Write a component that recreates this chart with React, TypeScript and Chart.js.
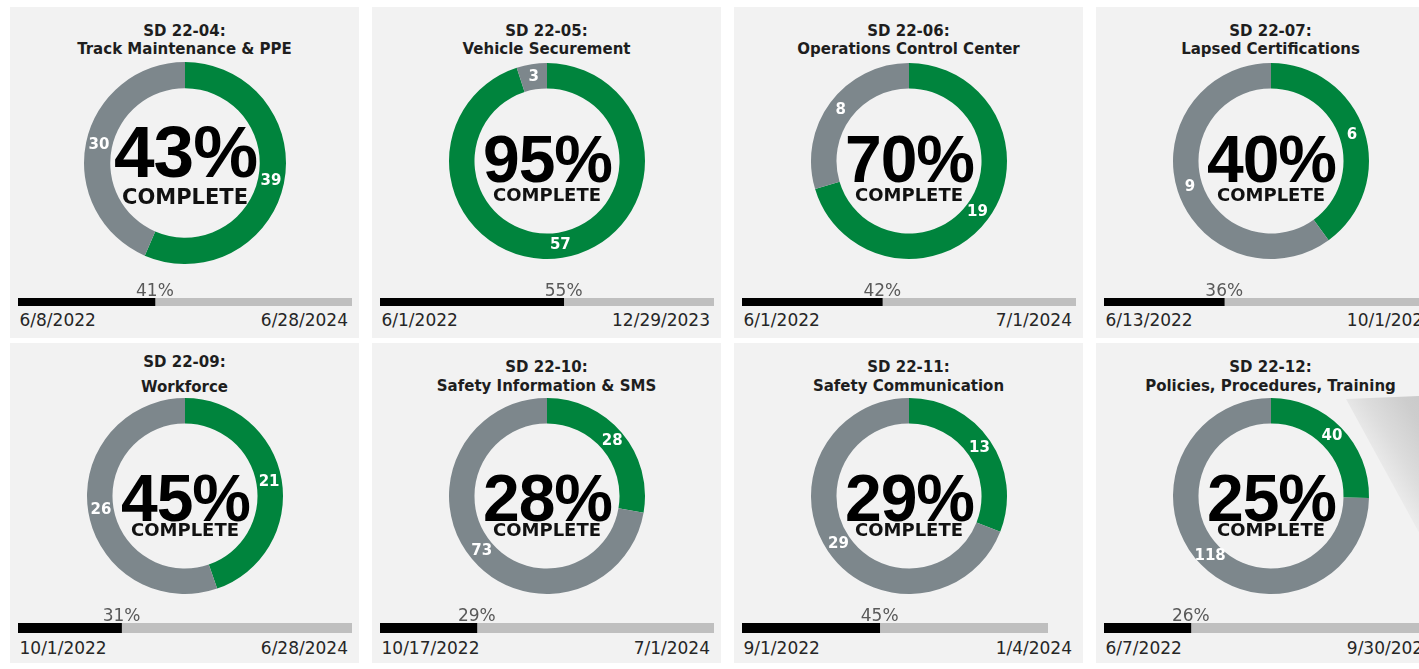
import React, { useEffect, useRef } from "react";
import { Chart, registerables } from "chart.js";

Chart.register(...registerables);

// ---------- data ----------
const codes = ["SD 22-04:", "SD 22-05:", "SD 22-06:", "SD 22-07:", "SD 22-09:", "SD 22-10:", "SD 22-11:", "SD 22-12:"];
const titles = [
  "Track Maintenance & PPE",
  "Vehicle Securement",
  "Operations Control Center",
  "Lapsed Certifications",
  "Workforce",
  "Safety Information & SMS",
  "Safety Communication",
  "Policies, Procedures, Training",
];
const completeLabels = ["43%", "95%", "70%", "40%", "45%", "28%", "29%", "25%"];
const completedItems = [39, 57, 19, 6, 21, 28, 13, 40];
const remainingItems = [30, 3, 8, 9, 26, 73, 29, 118];
const elapsedPct = [41, 55, 42, 36, 31, 29, 45, 26];
const startDates = ["6/8/2022", "6/1/2022", "6/1/2022", "6/13/2022", "10/1/2022", "10/17/2022", "9/1/2022", "6/7/2022"];
const endDates = ["6/28/2024", "12/29/2023", "7/1/2024", "10/1/2024", "6/28/2024", "7/1/2024", "1/4/2024", "9/30/2024"];

// ---------- styles / layout ----------
const GREEN = "#00843D";
const RING_GRAY = "#7D878C";
const PANEL_BG = "#F2F2F2";
const TRACK = "#BFBFBF";
const SANS = '"DejaVu Sans", Verdana, sans-serif';
const ARIAL = '"Liberation Sans", Arial, sans-serif';

const PANEL_X = [10, 372, 734, 1096];
const ROW_Y = [7, 343];
const ROW_H = [331, 320];
const PANEL_W = 349;
const BAR_LEFT = 8;
const BAR_W = [334, 334, 334, 334, 334, 334, 306, 334];

function layoutFor(i: number) {
  const row = i < 4 ? 0 : 1;
  const first = i === 0;
  if (row === 0) {
    return {
      row,
      t1: 30,
      t2: 48,
      cy: first ? 155.5 : 153.5,
      R: first ? 101 : 98,
      bigSize: first ? 73 : 66,
      bigLs: -1,
      bigOff: first ? 14 : 21,
      compSize: first ? 21 : 18,
      compOff: first ? 41 : 39.5,
      barTop: 291,
      barH: 8,
      dateBase: 319,
    };
  }
  return {
    row,
    t1: i === 4 ? 25 : 30,
    t2: i === 4 ? 50 : 49,
    cy: 153,
    R: 98,
    bigSize: 66,
    bigLs: -1,
    bigOff: 25,
    compSize: 18,
    compOff: 40,
    barTop: 280,
    barH: 10,
    dateBase: 311,
  };
}

// top of a line-height:1 DejaVu line so that its baseline lands at `base`
const topFor = (base: number, fs: number) => base - 0.846 * fs;

function Donut({ idx }: { idx: number }) {
  const ref = useRef<HTMLCanvasElement | null>(null);
  const L = layoutFor(idx);
  const pad = 2;
  const size = L.R * 2 + pad * 2;
  useEffect(() => {
    const canvas = ref.current;
    if (!canvas) return;
    const values = [completedItems[idx], remainingItems[idx]];
    const textPlugin = {
      id: "donutText" + idx,
      afterDatasetsDraw(chart: any) {
        const ctx = chart.ctx as CanvasRenderingContext2D;
        const meta = chart.getDatasetMeta(0);
        ctx.save();
        ctx.fillStyle = "#FFFFFF";
        ctx.font = `bold 15px ${SANS}`;
        ctx.textAlign = "center";
        ctx.textBaseline = "middle";
        meta.data.forEach((arc: any, j: number) => {
          const p = arc.tooltipPosition(false);
          ctx.fillText(String(values[j]), p.x, p.y);
        });
        const c = meta.data[0];
        const cx = c.x;
        const cy = c.y;
        ctx.fillStyle = "#000000";
        ctx.textBaseline = "alphabetic";
        ctx.font = `bold ${L.bigSize}px ${ARIAL}`;
        (ctx as any).letterSpacing = `${L.bigLs}px`;
        ctx.fillText(completeLabels[idx], cx - L.bigLs / 2, cy + L.bigOff);
        (ctx as any).letterSpacing = "0px";
        ctx.fillStyle = "#111111";
        ctx.font = `bold ${L.compSize}px ${SANS}`;
        ctx.fillText("COMPLETE", cx, cy + L.compOff);
        ctx.restore();
      },
    };
    const chart = new Chart(canvas, {
      type: "doughnut",
      data: {
        labels: ["Complete", "Remaining"],
        datasets: [
          {
            data: values,
            backgroundColor: [GREEN, RING_GRAY],
            borderWidth: 0,
            hoverOffset: 0,
            offset: 0,
          },
        ],
      },
      options: {
        responsive: false,
        animation: false,
        cutout: "74%",
        layout: { padding: pad },
        events: [],
        plugins: { legend: { display: false }, tooltip: { enabled: false } },
      } as any,
      plugins: [textPlugin],
    });
    return () => chart.destroy();
  }, [idx]);
  return (
    <canvas
      ref={ref}
      width={size}
      height={size}
      style={{
        position: "absolute",
        left: PANEL_W / 2 - size / 2,
        top: L.cy - size / 2,
        width: size,
        height: size,
      }}
    />
  );
}

function Progress({ idx }: { idx: number }) {
  const ref = useRef<HTMLCanvasElement | null>(null);
  const L = layoutFor(idx);
  const H = 30;
  const w = BAR_W[idx];
  useEffect(() => {
    const canvas = ref.current;
    if (!canvas) return;
    const p = elapsedPct[idx];
    const labelPlugin = {
      id: "pctLabel" + idx,
      afterDatasetsDraw(chart: any) {
        const ctx = chart.ctx as CanvasRenderingContext2D;
        const el = chart.getDatasetMeta(0).data[0];
        ctx.save();
        ctx.fillStyle = "#595959";
        ctx.font = `17px ${SANS}`;
        ctx.textAlign = "center";
        ctx.textBaseline = "alphabetic";
        ctx.fillText(`${p}%`, el.x, chart.chartArea.top - 2);
        ctx.restore();
      },
    };
    const chart = new Chart(canvas, {
      type: "bar",
      data: {
        labels: ["elapsed"],
        datasets: [
          { data: [p], backgroundColor: "#000000", borderWidth: 0, barThickness: L.barH },
          { data: [100 - p], backgroundColor: TRACK, borderWidth: 0, barThickness: L.barH },
        ],
      },
      options: {
        indexAxis: "y",
        responsive: false,
        animation: false,
        events: [],
        layout: { padding: { top: H - L.barH, bottom: 0, left: 0, right: 0 } },
        scales: {
          x: { display: false, stacked: true, min: 0, max: 100 },
          y: { display: false, stacked: true },
        },
        plugins: { legend: { display: false }, tooltip: { enabled: false } },
      } as any,
      plugins: [labelPlugin],
    });
    return () => chart.destroy();
  }, [idx]);
  return (
    <canvas
      ref={ref}
      width={w}
      height={H}
      style={{
        position: "absolute",
        left: BAR_LEFT,
        top: L.barTop - (H - L.barH),
        width: w,
        height: H,
      }}
    />
  );
}

function Panel({ idx }: { idx: number }) {
  const L = layoutFor(idx);
  const col = idx % 4;
  const titleStyle: React.CSSProperties = {
    position: "absolute",
    left: 0,
    width: PANEL_W,
    textAlign: "center",
    font: `bold 15px ${SANS}`,
    lineHeight: "1",
    color: "#1E1E1E",
    whiteSpace: "nowrap",
  };
  const dateStyle: React.CSSProperties = {
    position: "absolute",
    top: topFor(L.dateBase, 17),
    font: `17px ${SANS}`,
    lineHeight: "1",
    color: "#262626",
    whiteSpace: "nowrap",
  };
  return (
    <div
      style={{
        position: "absolute",
        left: PANEL_X[col],
        top: ROW_Y[L.row],
        width: PANEL_W,
        height: ROW_H[L.row],
        background: PANEL_BG,
      }}
    >
      {idx === 7 && (
        <div
          style={{
            position: "absolute",
            left: 250,
            top: 52,
            width: 99,
            height: 185,
            clipPath: "polygon(0px 4px, 99px 0px, 99px 185px)",
            background:
              "linear-gradient(58deg, rgba(242,242,242,0) 42%, #DCDCDC 62%, #CDCDCD 80%, #C6C6C6 100%)",
          }}
        />
      )}
      <div style={{ ...titleStyle, top: topFor(L.t1, 15) }}>{codes[idx]}</div>
      <div style={{ ...titleStyle, top: topFor(L.t2, 15) }}>{titles[idx]}</div>
      <Donut idx={idx} />
      <Progress idx={idx} />
      <div style={{ ...dateStyle, left: 9.5 }}>{startDates[idx]}</div>
      <div style={{ ...dateStyle, right: PANEL_W - 338 }}>{endDates[idx]}</div>
    </div>
  );
}

export default function App() {
  return (
    <div
      style={{
        position: "fixed",
        left: 0,
        top: 0,
        width: 1419,
        height: 669,
        overflow: "hidden",
        background: "#FFFFFF",
      }}
    >
      {codes.map((_, i) => (
        <Panel key={i} idx={i} />
      ))}
    </div>
  );
}
